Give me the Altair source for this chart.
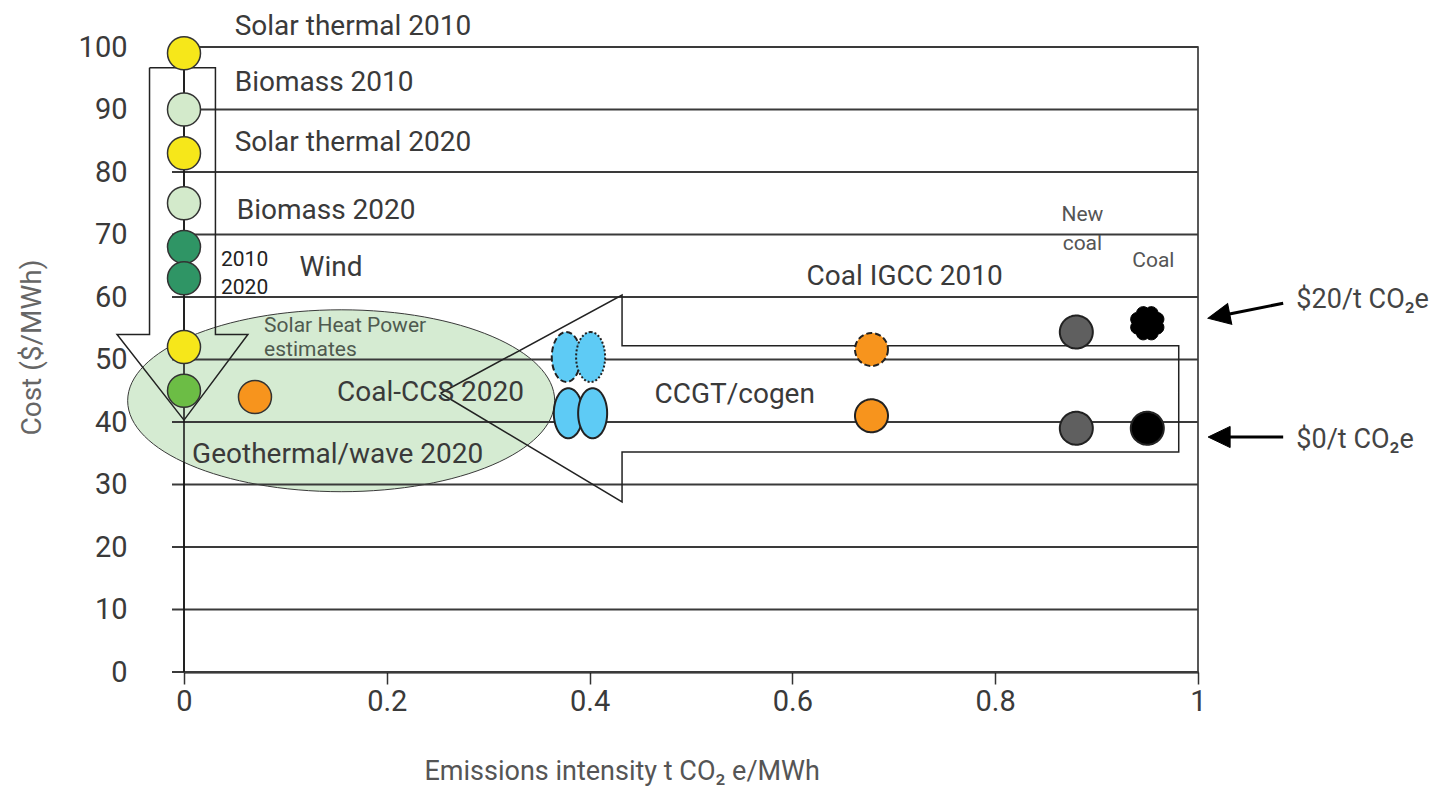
import math
import altair as alt
import pandas as pd

# ---------------- data ----------------
grid_values = [0, 10, 20, 30, 40, 50, 60, 70, 80, 90, 100]
x_ticks = [0, 0.2, 0.4, 0.6, 0.8, 1]

# zero / low emission technologies
low_names = ["Solar thermal 2010", "Biomass 2010", "Solar thermal 2020", "Biomass 2020",
             "Wind 2010", "Wind 2020", "Solar heat power", "Geothermal/wave 2020", "Coal-CCS 2020"]
low_x = [0, 0, 0, 0, 0, 0, 0, 0, 0.07]
low_cost = [99, 90, 83, 75, 68, 63, 52, 45, 44]
low_colors = ["#f6e71a", "#d3eacb", "#f6e71a", "#d3eacb", "#2f9565", "#2f9565",
              "#f6e71a", "#6cbd45", "#f7941d"]

# CCGT/cogen ($20/t dashed + dotted, $0/t solid)
ccgt_x = [0.377, 0.401, 0.379, 0.403]
ccgt_cost = [50.4, 50.4, 41.4, 41.4]
ccgt_dash = ["dashed", "dotted", "solid", "solid"]

# fossil plants
fossil_names = ["Coal IGCC 2010 $20", "Coal IGCC 2010 $0", "New coal $20", "New coal $0", "Coal $0"]
fossil_x = [0.678, 0.678, 0.880, 0.880, 0.950]
fossil_cost = [51.6, 41.0, 54.4, 39.0, 39.0]
fossil_colors = ["#f7941d", "#f7941d", "#5f5f5f", "#5f5f5f", "#000000"]
fossil_dash = ["dashed", "solid", "solid", "solid", "solid"]

coal20_x = [0.950]
coal20_cost = [55.8]

# Geothermal/wave / Coal-CCS estimate region
region_x = [0.155]
region_cost = [43.4]

# outline arrows (vertices in data units)
down_arrow_x = [-0.034, 0.031, 0.031, 0.063, 0.0, -0.066, -0.034, -0.034]
down_arrow_y = [96.7, 96.7, 54.0, 54.0, 40.3, 54.0, 54.0, 96.7]
left_arrow_x = [0.253, 0.432, 0.432, 0.981, 0.981, 0.432, 0.432, 0.253]
left_arrow_y = [44.6, 60.3, 52.2, 52.2, 35.2, 35.2, 27.2, 44.6]

# carbon price pointer arrows
price_tail_x = [1.084, 1.084]
price_tail_y = [59.0, 37.6]
price_tip_x = [1.010, 1.010]
price_tip_y = [56.6, 37.6]

# labels
main_text = ["Solar thermal 2010", "Biomass 2010", "Solar thermal 2020", "Biomass 2020", "Wind",
             "Coal-CCS 2020", "Geothermal/wave 2020", "CCGT/cogen", "Coal IGCC 2010"]
main_x = [0.050, 0.050, 0.050, 0.052, 0.114, 0.151, 0.008, 0.464, 0.614]
main_y = [103.2, 94.2, 84.7, 73.8, 64.6, 44.6, 34.7, 44.3, 63.2]

year_text = ["2010", "2020"]
year_x = [0.0365, 0.0365]
year_y = [65.9, 61.5]

shp_text = ["Solar Heat Power", "estimates"]
shp_x = [0.079, 0.079]
shp_y = [55.4, 51.5]

coal_text = ["New", "coal", "Coal"]
coal_x = [0.886, 0.886, 0.956]
coal_y = [73.1, 68.5, 65.8]

price_text = ["$20/t CO\u2082e", "$0/t CO\u2082e"]
price_x = [1.097, 1.097]
price_y = [59.5, 37.1]

# ---------------- shapes ----------------
ELLIPSE_WIDE = "M -1 0 A 1 0.426 0 1 1 1 0 A 1 0.426 0 1 1 -1 0 Z"
ELLIPSE_TALL = "M 0 -1 A 0.58 1 0 1 1 0 1 A 0.58 1 0 1 1 0 -1 Z"
ARROW_HEAD = "M 0 0 L 1 -0.48 L 1 0.48 Z"


def scallop_path(n=8, R=0.9, r=0.4):
    pts = [(R * math.cos(2 * math.pi * k / n), R * math.sin(2 * math.pi * k / n)) for k in range(n)]
    s = "M %.4f %.4f" % pts[0]
    for k in range(1, n + 1):
        px, py = pts[k % n]
        s += " A %.3f %.3f 0 0 1 %.4f %.4f" % (r, r, px, py)
    return s + " Z"


SCALLOP = scallop_path()

FONT = "Roboto"
TXT = "#3a3a3a"
PX_X = 1014.0   # plot width
PX_Y = 6.25     # pixels per cost unit

xscale = alt.Scale(domain=[0, 1], nice=False, zero=False)
yscale = alt.Scale(domain=[0, 100], nice=False, zero=False)

xaxis = alt.Axis(values=x_ticks, format="~g", title="Emissions intensity t CO\u2082 e/MWh",
                 grid=False, domainColor="#111", domainWidth=2, tickColor="#333",
                 tickWidth=1.5, tickSize=12, labelPadding=3, labelFont=FONT, labelFontSize=29,
                 labelColor=TXT, labelFlush=False, titleFont=FONT, titleFontSize=27,
                 titleFontWeight="normal", titleColor="#555", titleX=240, titleY=99,
                 titleAlign="left", titleBaseline="middle")
yaxis = alt.Axis(values=grid_values, format="d", title="Cost ($/MWh)", grid=False, domain=False,
                 ticks=False, labelPadding=57, labelFont=FONT, labelFontSize=29, labelColor=TXT,
                 titleFont=FONT, titleFontSize=28, titleFontWeight="normal", titleColor="#666",
                 titleX=-152, titleY=300, titleAngle=270, titleAlign="center",
                 titleBaseline="middle")


def X(f):
    return alt.X(f, type="quantitative", scale=xscale, axis=xaxis)


def Y(f):
    return alt.Y(f, type="quantitative", scale=yscale, axis=yaxis)


dash_scale = alt.Scale(domain=["dashed", "dotted", "solid"], range=[[6, 3], [2, 2], [1, 0]])

# ---------------- frames ----------------
df_grid = pd.DataFrame({"y": grid_values, "x0": 0.0, "x1": 1.0})
df_vaxis = pd.DataFrame({"x": [0.0], "y0": [grid_values[0]], "y1": [grid_values[-1]]})
df_region = pd.DataFrame({"x": region_x, "y": region_cost})

rows = []
for i, (xx, yy) in enumerate(zip(down_arrow_x, down_arrow_y)):
    rows.append({"shape": "down", "i": i, "x": xx, "y": yy})
for i, (xx, yy) in enumerate(zip(left_arrow_x, left_arrow_y)):
    rows.append({"shape": "left", "i": i, "x": xx, "y": yy})
df_arrows = pd.DataFrame(rows)

df_low = pd.DataFrame({"name": low_names, "x": low_x, "y": low_cost, "col": low_colors})
df_ccgt = pd.DataFrame({"x": ccgt_x, "y": ccgt_cost, "dash": ccgt_dash})
df_fossil = pd.DataFrame({"name": fossil_names, "x": fossil_x, "y": fossil_cost,
                          "col": fossil_colors, "dash": fossil_dash})
df_coal20 = pd.DataFrame({"x": coal20_x, "y": coal20_cost})

prow = []
for tx, ty, hx, hy in zip(price_tail_x, price_tail_y, price_tip_x, price_tip_y):
    ang = math.degrees(math.atan2(-(ty - hy) * PX_Y, (tx - hx) * PX_X)) % 360
    prow.append({"tx": tx, "ty": ty, "hx": hx, "hy": hy,
                 "sx": hx + 0.25 * (tx - hx), "sy": hy + 0.25 * (ty - hy), "ang": ang})
df_price = pd.DataFrame(prow)


def text_df(t, xs, ys):
    return pd.DataFrame({"t": t, "x": xs, "y": ys})


# ---------------- layers ----------------
region = alt.Chart(df_region).mark_point(
    shape=ELLIPSE_WIDE, size=427 * 427, filled=True, fill="#d5ebd2", stroke="#3a3a3a",
    strokeWidth=1, opacity=1).encode(x=X("x"), y=Y("y"))

grid = alt.Chart(df_grid).mark_rule(color="#3a3a3a", strokeWidth=2, xOffset=-12).encode(
    x=X("x0"), x2="x1:Q", y=Y("y"))

vaxis = alt.Chart(df_vaxis).mark_rule(color="#111", strokeWidth=1.5).encode(
    x=X("x"), y=Y("y0"), y2="y1:Q")

arrows = alt.Chart(df_arrows).mark_line(color="#222", strokeWidth=1.5).encode(
    x=X("x"), y=Y("y"), detail="shape:N", order="i:Q")

low_pts = alt.Chart(df_low).mark_point(
    shape="circle", size=1089, filled=True, stroke="#333", strokeWidth=1.5, opacity=1).encode(
    x=X("x"), y=Y("y"), fill=alt.Fill("col:N", scale=None))

ccgt_pts = alt.Chart(df_ccgt).mark_point(
    shape=ELLIPSE_TALL, size=2500, filled=True, fill="#5ecbf5", stroke="#222",
    strokeWidth=2, opacity=1).encode(
    x=X("x"), y=Y("y"), strokeDash=alt.StrokeDash("dash:N", scale=dash_scale, legend=None))

fossil_pts = alt.Chart(df_fossil).mark_point(
    shape="circle", size=1089, filled=True, stroke="#222", strokeWidth=2, opacity=1).encode(
    x=X("x"), y=Y("y"), fill=alt.Fill("col:N", scale=None),
    strokeDash=alt.StrokeDash("dash:N", scale=dash_scale, legend=None))

coal20_pt = alt.Chart(df_coal20).mark_point(
    shape=SCALLOP, size=1150, filled=True, fill="#000", stroke="#000", strokeWidth=1,
    opacity=1).encode(x=X("x"), y=Y("y"))

price_shaft = alt.Chart(df_price).mark_rule(color="#000", strokeWidth=3).encode(
    x=X("tx"), y=Y("ty"), x2="sx:Q", y2="sy:Q")
price_head = alt.Chart(df_price).mark_point(
    shape=ARROW_HEAD, size=44 * 44, filled=True, fill="#000", stroke="#000", strokeWidth=1,
    opacity=1).encode(x=X("hx"), y=Y("hy"), angle=alt.Angle("ang:Q", scale=None))

main_lbl = alt.Chart(text_df(main_text, main_x, main_y)).mark_text(
    align="left", baseline="middle", font=FONT, fontSize=28, color=TXT).encode(
    x=X("x"), y=Y("y"), text="t:N")
year_lbl = alt.Chart(text_df(year_text, year_x, year_y)).mark_text(
    align="left", baseline="middle", font=FONT, fontSize=21, color="#222").encode(
    x=X("x"), y=Y("y"), text="t:N")
shp_lbl = alt.Chart(text_df(shp_text, shp_x, shp_y)).mark_text(
    align="left", baseline="middle", font=FONT, fontSize=21, color="#4f5a4f").encode(
    x=X("x"), y=Y("y"), text="t:N")
coal_lbl = alt.Chart(text_df(coal_text, coal_x, coal_y)).mark_text(
    align="center", baseline="middle", font=FONT, fontSize=21, color="#555").encode(
    x=X("x"), y=Y("y"), text="t:N")
price_lbl = alt.Chart(text_df(price_text, price_x, price_y)).mark_text(
    align="left", baseline="middle", font=FONT, fontSize=27, color="#444").encode(
    x=X("x"), y=Y("y"), text="t:N")

chart = alt.layer(
    region, grid, vaxis, arrows, low_pts, ccgt_pts, fossil_pts, coal20_pt,
    price_shaft, price_head, main_lbl, year_lbl, shp_lbl, coal_lbl, price_lbl
).properties(
    width=1014, height=625,
    padding={"left": 176, "top": 39, "right": 239, "bottom": 118},
    autosize=alt.AutoSizeParams(type="none"),
).configure_view(stroke="#222", strokeWidth=1.5)

chart.save("out.html", embed_options={"renderer": "svg", "actions": False})
